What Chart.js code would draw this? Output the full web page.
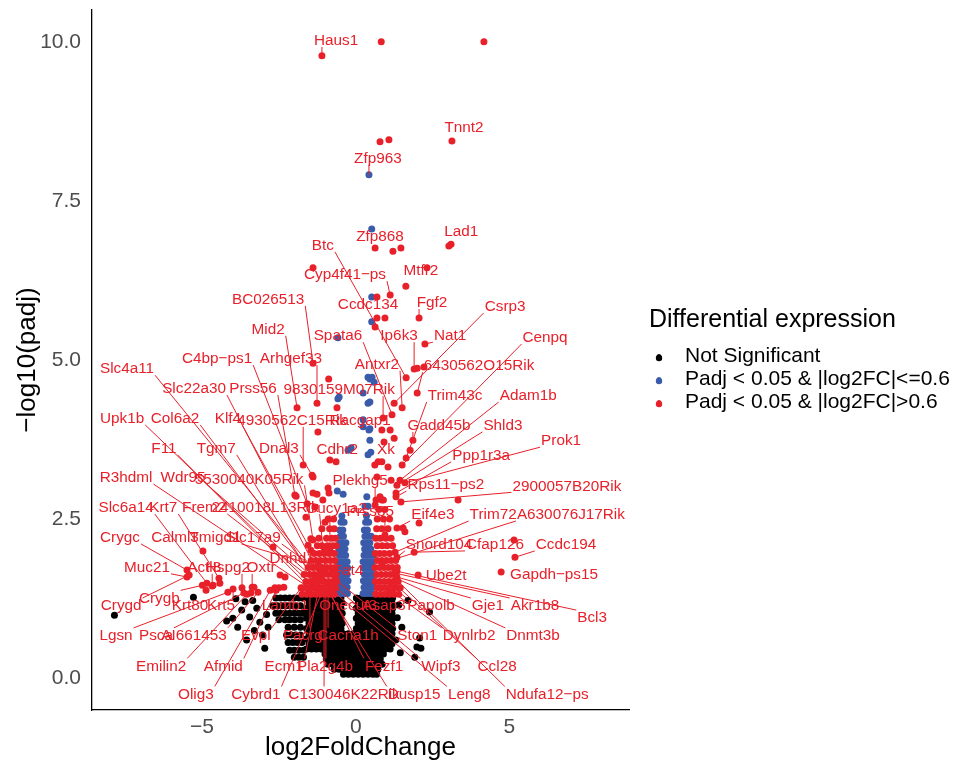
<!DOCTYPE html>
<html>
<head>
<meta charset="utf-8">
<script src="https://cdn.jsdelivr.net/npm/chart.js@4.4.1/dist/chart.umd.min.js"></script>
<style>
  html, body { margin: 0; padding: 0; background: #fff; }
</style>
</head>
<body>
<canvas id="volcano" width="955" height="765"></canvas>
<script>
// axis ticks
const xTicks = [-5, 0, 5];
const yTicks = [0, 2.5, 5, 7.5, 10];

// labelled genes: log2FoldChange and -log10(padj)
const geneNames = ['Haus1','Tnnt2','Zfp963','Zfp868','Lad1','Btc','Cyp4f41-ps','Mtfr2','BC026513','Ccdc134',
  'Fgf2','Csrp3','Mid2','Spata6','Ip6k3','Nat1','Cenpq','C4bp-ps1','Arhgef33','Antxr2',
  '6430562O15Rik','Slc4a11','Slc22a30','Prss56','9830159M07Rik','Trim43c','Adam1b','Upk1b','Col6a2','Klf4',
  '4930562C15Rik','Racgap1','Gadd45b','Shld3','F11','Tgm7','Dnal3','Cdhr2','Xk','Prok1',
  'Ppp1r3a','R3hdml','Wdr95','5530040K05Rik','Plekhg5','Rps11-ps2','2900057B20Rik','Slc6a14','Krt7','Frem2',
  '2410018L13Rik','Gucy1a2','Prss35','Eif4e3','Trim72','A630076J17Rik','Crygc','Calml3','Tmigd1','Slc17a9',
  'Snord104','Cfap126','Ccdc194','Dnhd1','Muc21','Actl8','Hspg2','Oxtr','Fat4','Ube2t',
  'Gapdh-ps15','Crygd','Crygb','Krt80','Krt5','Lamb1','Onecut3','Asap3','Papolb','Gje1',
  'Akr1b8','Bcl3','Lgsn','Psca','AI661453','Evpl','Pacrg','Cacna1h','Ston1','Dynlrb2',
  'Dnmt3b','Emilin2','Afmid','Ecm1','Pla2g4b','Fezf1','Wipf3','Ccl28','Olig3','Cybrd1',
  'C130046K22Rik','Dusp15','Leng8','Ndufa12-ps'];
const geneLog2FC = [-1.10,3.13,0.43,0.63,3.10,1.64,1.12,2.32,-1.39,0.69,
  2.06,1.25,-1.91,1.18,1.90,2.25,1.51,-1.58,-1.26,1.51,
  2.00,-1.23,-1.10,-1.98,0.89,1.64,1.44,-1.42,-1.32,-1.55,
  -1.71,1.12,1.86,1.34,-1.49,-1.16,-1.42,-0.64,0.73,1.60,
  1.31,-1.23,-1.00,-1.39,0.63,1.31,1.47,-4.84,-4.45,-1.29,
  -1.00,-0.84,0.95,1.34,1.28,0.86,-5.49,-4.97,-1.23,-1.16,
  1.34,1.90,5.18,-1.10,-5.49,-4.67,-3.70,-3.37,-0.77,2.03,
  4.73,-5.42,-4.99,-4.87,-3.99,-2.63,-0.67,1.12,1.18,1.34,
  1.28,1.34,-4.16,-3.64,-3.18,-1.78,-1.49,-0.90,-0.64,1.15,
  1.31,-3.54,-2.59,-1.23,-0.97,-0.84,-0.71,1.25,-2.78,-1.10,
  -1.03,-0.97,-0.77,1.34];
const geneNegLog10Padj = [9.78,8.44,7.91,6.76,6.82,4.72,6.02,6.45,4.95,5.66,
  5.66,4.32,4.25,4.14,4.86,5.25,3.35,2.74,4.32,4.25,
  4.48,1.62,1.54,2.88,4.09,3.46,3.11,1.46,1.57,2.09,
  3.35,3.90,3.74,3.03,1.42,1.38,3.19,3.40,3.40,3.07,
  2.91,1.33,1.42,2.17,2.72,2.85,2.77,1.49,1.57,1.51,
  1.70,2.01,2.25,2.36,1.98,1.81,1.70,2.00,1.76,1.67,
  1.90,1.98,1.90,1.73,1.59,1.45,1.42,1.43,1.67,1.62,
  1.67,1.62,1.46,1.38,1.40,1.42,1.54,1.35,1.45,1.59,
  1.65,1.68,1.35,1.34,1.35,1.42,1.35,1.46,1.54,1.37,
  1.57,1.32,1.38,1.35,1.35,1.35,1.45,1.49,1.38,1.35,
  1.38,1.42,1.38,1.54];

// where each repelled label sits (data units)
const labelPos = [[-0.64,10.03],[3.52,8.66],[0.72,8.18],[0.79,6.95],[3.43,7.03],[-1.07,6.81],[-0.35,6.35],[2.12,6.42],[-2.85,5.96],[0.40,5.88],
  [2.48,5.91],[4.86,5.85],[-2.85,5.49],[-0.58,5.39],[1.41,5.39],[3.07,5.39],[6.16,5.36],[-4.51,5.03],[-2.11,5.03],[0.69,4.94],
  [4.01,4.92],[-7.44,4.87],[-5.26,4.56],[-3.34,4.56],[-0.54,4.54],[3.23,4.45],[5.61,4.45],[-7.60,4.09],[-5.88,4.09],[-4.16,4.09],
  [-2.07,4.06],[0.14,4.06],[2.71,3.98],[4.79,3.98],[-6.24,3.62],[-4.54,3.62],[-2.50,3.62],[-0.60,3.60],[0.98,3.60],[6.68,3.74],
  [4.08,3.51],[-7.47,3.16],[-5.62,3.16],[-3.47,3.14],[0.14,3.11],[2.93,3.05],[6.87,3.03],[-7.47,2.69],[-6.26,2.69],[-4.93,2.69],
  [-2.95,2.69],[-0.64,2.67],[0.47,2.63],[2.51,2.58],[4.47,2.58],[7.00,2.58],[-7.67,2.22],[-5.88,2.22],[-4.58,2.22],[-3.34,2.22],
  [2.71,2.11],[4.53,2.11],[6.84,2.11],[-2.07,1.89],[-6.79,1.75],[-4.93,1.75],[-4.16,1.75],[-3.08,1.75],[-0.25,1.70],[2.94,1.62],
  [6.45,1.64],[-7.63,1.15],[-6.39,1.27],[-5.39,1.15],[-4.38,1.15],[-2.30,1.15],[-0.25,1.15],[0.92,1.15],[2.45,1.15],[4.30,1.15],
  [5.83,1.15],[7.69,0.96],[-7.80,0.68],[-6.50,0.68],[-5.26,0.68],[-3.25,0.68],[-1.72,0.68],[-0.25,0.68],[2.00,0.68],[3.69,0.68],
  [5.77,0.68],[-6.33,0.20],[-4.31,0.20],[-2.33,0.20],[-1.00,0.20],[0.92,0.20],[2.77,0.20],[4.60,0.20],[-5.20,-0.24],[-3.25,-0.24],
  [-0.38,-0.24],[1.90,-0.24],[3.69,-0.24],[6.23,-0.24]];

// unlabelled genes, padj < 0.05 & |log2FC| > 0.6
const bigFcPoints = [[0.83,10.0],[4.17,10.0],[0.79,8.43],[1.08,8.46],[1.21,6.71],[1.47,6.76],[3.03,6.79],[-1.39,6.45],
  [1.63,6.16],[0.69,5.99],[0.95,5.66],[0.63,5.52],[2.22,4.89],[-0.88,4.70],[-0.61,4.25],[2.0,4.87],[-1.23,3.87],
  [0.85,3.90],[1.25,3.77],[0.92,3.71],[1.77,3.58],[-1.39,3.16],[-1.94,2.86],[-1.26,2.89],[-0.87,2.91],[0.62,3.35],
  [1.05,3.32],[1.15,3.11],[-1.62,2.53],[-1.0,2.45],[1.54,2.36],[1.60,2.30],[2.06,2.44],[3.33,2.80],[5.15,2.17],
  [-2.69,2.06],[-1.46,2.19],[-1.46,2.01],[-1.03,2.04],[-2.30,1.59],[-2.50,1.42],[-2.34,1.43],[-2.46,1.62],
  [-3.31,1.43],[-3.41,1.34],[-4.42,1.49],[-4.64,1.46],[0.85,3.40],[0.69,3.16],[0.79,2.85],[0.85,2.80],
  [-0.90,2.99],[-1.07,2.80],[-1.39,2.91],[-1.33,2.69],[-0.84,3.43]];
const bigFcRows = [
  [1.32, [-1.75,-1.6,-1.45,-1.3,-1.15,-1.0,-0.85,-0.7, 0.65,0.8,0.95,1.1,1.25,1.4]],
  [1.42, [-1.7,-1.55,-1.38,-1.22,-1.08,-0.92,-0.78,-0.65, 0.7,0.85,1.0,1.15,1.3,1.45]],
  [1.52, [-1.62,-1.47,-1.33,-1.18,-1.02,-0.88,-0.74,-0.63, 0.64,0.78,0.93,1.08,1.22,1.38]],
  [1.63, [-1.68,-1.5,-1.36,-1.2,-1.05,-0.9,-0.76,-0.64, 0.68,0.83,0.98,1.13,1.28]],
  [1.74, [-1.55,-1.4,-1.25,-1.1,-0.95,-0.81,-0.67, 0.63,0.78,0.92,1.06,1.2,1.35]],
  [1.85, [-1.45,-1.3,-1.15,-0.98,-0.83,-0.68, 0.7,0.85,1.0,1.15,1.3]],
  [1.96, [-1.35,-1.18,-1.02,-0.86,-0.7, 0.64,0.78,0.93,1.1]],
  [2.08, [-1.25,-1.1,-0.92,-0.75,-0.64, 0.7,0.86,1.02,1.2]],
  [2.20, [-1.2,-0.95,-0.78,-0.66, 0.65,0.8,0.98,1.15]],
  [2.35, [-1.1,-0.85,-0.7, 0.68,0.85,1.05]],
  [2.50, [-0.9,-0.72, 0.7,0.9,1.1]],
  [2.65, [0.75,0.95]],
  [2.80, [0.66,0.9]]
];

// padj < 0.05 & |log2FC| <= 0.6
const smallFcPoints = [[0.52,7.06],[0.52,5.99],[0.52,5.60],[-0.58,5.35],[0.53,4.73],[0.60,4.65],[0.40,4.73],[0.46,4.70],
  [-0.54,4.42],[-0.58,4.39],[0.46,4.34],[0.24,4.48],[0.40,4.32],[0.24,4.06],[0.46,3.92],[0.24,3.95],[0.43,3.90],
  [0.46,3.74],[0.49,3.55],[0.40,3.51],[-0.25,3.58],[-0.15,3.62],[-0.6,2.94],[-0.41,2.89],[0.36,2.85]];
const smallFcRows = [
  [1.33, [-0.56,-0.46,-0.36,-0.27, 0.24,0.34,0.44,0.54]],
  [1.43, [-0.58,-0.48,-0.38,-0.28, 0.27,0.37,0.47,0.57]],
  [1.53, [-0.55,-0.45,-0.35,-0.25, 0.25,0.35,0.45,0.55]],
  [1.63, [-0.57,-0.47,-0.37,-0.28, 0.28,0.38,0.48,0.58]],
  [1.73, [-0.54,-0.44,-0.34,-0.26, 0.26,0.36,0.46,0.56]],
  [1.83, [-0.56,-0.46,-0.36,-0.28, 0.24,0.34,0.44,0.54]],
  [1.93, [-0.53,-0.43,-0.33, 0.27,0.37,0.47,0.57]],
  [2.03, [-0.55,-0.45,-0.35, 0.29,0.39,0.49]],
  [2.13, [-0.52,-0.42,-0.32, 0.26,0.36,0.46]],
  [2.23, [-0.5,-0.4, 0.3,0.4,0.5]],
  [2.33, [-0.52,-0.42, 0.28,0.38]],
  [2.45, [-0.48,-0.38, 0.32,0.42]],
  [2.55, [-0.45, 0.35]],
  [2.70, [0.3,0.4]]
];

// not significant: dense core, left lobe, then scattered genes
const notSigRows = [
  [1.26, [-2.6,-2.45,-2.3,-2.15,-2.0,-1.85,-1.72,-1.6,-1.44,-1.28,-1.12,-0.96,-0.8,-0.64,-0.48,0.02,0.16,0.32,0.48,0.64,0.8,0.96,1.12,1.2]],
  [1.18, [-1.52,-1.36,-1.2,-1.04,-0.88,-0.72,-0.56,-0.44,0.08,0.24,0.4,0.56,0.72,0.88,1.04,1.18]],
  [1.14, [-2.7,-2.55,-2.4,-2.25,-2.1,-1.95,-1.8]],
  [1.10, [-1.6,-1.44,-1.28,-1.12,-0.96,-0.8,-0.64,-0.48,0.02,0.16,0.32,0.48,0.64,0.8,0.96,1.12,1.2]],
  [1.02, [-2.6,-2.45,-2.3,-2.15,-2.0,-1.85,-1.72,-1.52,-1.36,-1.2,-1.04,-0.88,-0.72,-0.56,-0.44,0.08,0.24,0.4,0.56,0.72,0.88,1.04,1.18]],
  [0.94, [-1.6,-1.44,-1.28,-1.12,-0.96,-0.8,-0.64,-0.48,0.02,0.16,0.32,0.48,0.64,0.8,0.96,1.12,1.2]],
  [0.92, [-2.5,-2.3,-2.15,-1.98,-1.8]],
  [0.86, [-1.52,-1.36,-1.2,-1.04,-0.88,-0.72,-0.56,-0.44,0.08,0.24,0.4,0.56,0.72,0.88,1.04,1.18]],
  [0.80, [-2.2,-2.0,-1.8]],
  [0.78, [-1.6,-1.44,-1.28,-1.12,-0.96,-0.8,-0.64,-0.48,0.02,0.16,0.32,0.48,0.64,0.8,0.96,1.12,1.2]],
  [0.70, [-1.52,-1.36,-1.2,-1.04,-0.88,-0.72,-0.56,-0.4,-0.24,-0.08,0.08,0.24,0.4,0.56,0.72,0.88,1.04,1.18]],
  [0.68, [-2.25,-2.1,-1.95,-1.8]],
  [0.62, [-1.6,-1.44,-1.28,-1.12,-0.96,-0.8,-0.64,-0.48,-0.32,-0.16,0,0.16,0.32,0.48,0.64,0.8,0.96,1.12]],
  [0.56, [-2.2,-2.05,-1.9,-1.75]],
  [0.54, [-1.52,-1.36,-1.2,-1.04,-0.88,-0.72,-0.56,-0.4,-0.24,-0.08,0.08,0.24,0.4,0.56,0.72,0.88,1.04,1.18]],
  [0.46, [-1.6,-1.44,-1.28,-1.12,-0.96,-0.8,-0.64,-0.48,-0.32,-0.16,0,0.16,0.32,0.48,0.64,0.8,0.96,1.12]],
  [0.44, [-2.15,-2.0,-1.85,-1.7]],
  [0.38, [-1.0,-0.84,-0.68,-0.52,-0.36,-0.2,-0.04,0.12,0.28,0.44,0.6,0.76,0.9]],
  [0.33, [-2.0,-1.85,-1.7]],
  [0.30, [-0.96,-0.8,-0.64,-0.48,-0.32,-0.16,0,0.16,0.32,0.48,0.64,0.8]],
  [0.22, [-0.9,-0.74,-0.58,-0.42,-0.26,-0.1,0.06,0.22,0.38,0.54,0.7,0.86]],
  [0.14, [-0.7,-0.54,-0.38,-0.22,-0.06,0.1,0.26,0.42,0.58,0.72]],
  [0.06, [-0.4,-0.24,-0.08,0.08,0.24,0.4,0.56,0.68]]
];
const notSigPoints = [[-4.0,0.94],[-3.71,1.07],[-3.45,0.96],[-3.84,0.80],[-3.22,1.10],[-3.12,0.88],[-3.03,0.68],
  [-3.55,0.60],[-2.96,0.47],[-3.9,1.25],[-3.6,1.2],[-3.35,1.22],[-2.9,1.0],[-2.85,0.8],[-3.3,0.75],[-4.2,0.9],
  [-7.85,0.99],[-5.28,1.27],[1.99,0.49],[2.08,0.63],[1.5,0.8],[1.7,1.22],[2.4,1.04],[2.12,0.47],[1.92,0.33],
  [1.45,0.4],[1.4,1.15],[1.35,0.95],[1.3,0.6]];

const RED = '#E8202A', BLUE = '#3A5BAA', BLACK = '#000000';
const FONT = '"Liberation Sans", Arial, sans-serif';
Chart.defaults.font.family = FONT;

const fromRows = rows => rows.flatMap(([y, xs]) => xs.map(x => ({ x, y })));
const fromPairs = pairs => pairs.map(([x, y]) => ({ x, y }));

// labelled genes go into their group by the same thresholds
const labelled = geneNames.map((g, i) => ({ x: geneLog2FC[i], y: geneNegLog10Padj[i] }));
const bigFc = fromPairs(bigFcPoints).concat(fromRows(bigFcRows), labelled.filter(p => Math.abs(p.x) > 0.6));
const smallFc = fromPairs(smallFcPoints).concat(fromRows(smallFcRows), labelled.filter(p => Math.abs(p.x) <= 0.6));
const notSig = fromPairs(notSigPoints).concat(fromRows(notSigRows));

const minus = s => s.replace(/-/g, '\u2212');

// ggrepel style labels with segments
const repelLabels = {
  id: 'repelLabels',
  afterDatasetsDraw(chart) {
    const { ctx, scales: { x, y } } = chart;
    ctx.save();
    ctx.font = '15.3px ' + FONT;
    ctx.strokeStyle = RED;
    ctx.fillStyle = RED;
    ctx.lineWidth = 1;
    const boxes = geneNames.map((g, i) => {
      const text = minus(g);
      return {
        text,
        px: x.getPixelForValue(geneLog2FC[i]), py: y.getPixelForValue(geneNegLog10Padj[i]),
        lx: x.getPixelForValue(labelPos[i][0]), ly: y.getPixelForValue(labelPos[i][1]),
        hw: ctx.measureText(text).width / 2 + 1, hh: 7
      };
    });
    boxes.forEach(b => {
      const cx = Math.min(Math.max(b.px, b.lx - b.hw), b.lx + b.hw);
      const cy = Math.min(Math.max(b.py, b.ly - b.hh), b.ly + b.hh);
      if (Math.hypot(cx - b.px, cy - b.py) > 8) {
        ctx.beginPath();
        ctx.moveTo(cx, cy);
        ctx.lineTo(b.px, b.py);
        ctx.stroke();
      }
    });
    ctx.textAlign = 'center';
    ctx.textBaseline = 'middle';
    boxes.forEach(b => ctx.fillText(b.text, b.lx, b.ly + 1));
    ctx.restore();
  }
};

const legendItems = ['Not Significant', 'Padj < 0.05 & |log2FC|<=0.6', 'Padj < 0.05 & |log2FC|>0.6'];
const legendColors = [BLACK, BLUE, RED];

const sideLegend = {
  id: 'sideLegend',
  afterDraw(chart) {
    const ctx = chart.ctx;
    ctx.save();
    ctx.fillStyle = '#000';
    ctx.textAlign = 'left';
    ctx.textBaseline = 'middle';
    ctx.font = '25px ' + FONT;
    ctx.fillText('Differential expression', 649, 320);
    legendItems.forEach((t, i) => {
      const yy = 356 + i * 23;
      ctx.fillStyle = legendColors[i];
      ctx.beginPath();
      ctx.arc(659, yy + 2, 3.2, 0, Math.PI * 2);
      ctx.fill();
      ctx.font = 'bold 10px ' + FONT;
      ctx.textAlign = 'center';
      ctx.fillText('a', 659, yy + 1);
      ctx.font = '21px ' + FONT;
      ctx.textAlign = 'left';
      ctx.fillStyle = '#000';
      ctx.fillText(t, 685, yy);
    });
    ctx.restore();
  }
};

const noPad = s => { s.paddingTop = 0; s.paddingBottom = 0; s.paddingLeft = 0; s.paddingRight = 0; };

new Chart(document.getElementById('volcano').getContext('2d'), {
  type: 'scatter',
  data: {
    datasets: [
      { label: legendItems[2], data: bigFc, backgroundColor: RED, pointRadius: 3.5, borderWidth: 0 },
      { label: legendItems[1], data: smallFc, backgroundColor: BLUE, pointRadius: 3.5, borderWidth: 0 },
      { label: legendItems[0], data: notSig, backgroundColor: BLACK, pointRadius: 3.5, borderWidth: 0 }
    ]
  },
  options: {
    responsive: false,
    animation: false,
    devicePixelRatio: 1,
    layout: { padding: { top: 10, right: 326, left: 0, bottom: 0 } },
    plugins: { legend: { display: false }, tooltip: { enabled: false } },
    scales: {
      x: {
        type: 'linear',
        min: -8.58,
        max: 8.89,
        afterFit: s => { s.height = 55; noPad(s); },
        afterBuildTicks: s => { s.ticks = xTicks.map(v => ({ value: v })); },
        ticks: {
          color: '#4D4D4D', font: { size: 21 }, padding: 5,
          callback: v => v < 0 ? '\u2212' + Math.abs(v) : String(v)
        },
        grid: { display: false, drawTicks: false },
        border: { display: true, color: '#000', width: 1.3 },
        title: { display: true, text: 'log2FoldChange', color: '#000', font: { size: 26 }, padding: { top: 0, bottom: 2 } }
      },
      y: {
        type: 'linear',
        min: -0.5,
        max: 10.5,
        afterFit: s => { s.width = 92; noPad(s); },
        afterBuildTicks: s => { s.ticks = yTicks.map(v => ({ value: v })); },
        ticks: {
          color: '#4D4D4D', font: { size: 21 }, padding: 11,
          callback: v => v.toFixed(1)
        },
        grid: { display: false, drawTicks: false },
        border: { display: true, color: '#000', width: 1.3 },
        title: { display: true, text: '\u2212log10(padj)', color: '#000', font: { size: 26 }, padding: { top: 12, bottom: 0 } }
      }
    }
  },
  plugins: [repelLabels, sideLegend]
});
</script>
</body>
</html>
